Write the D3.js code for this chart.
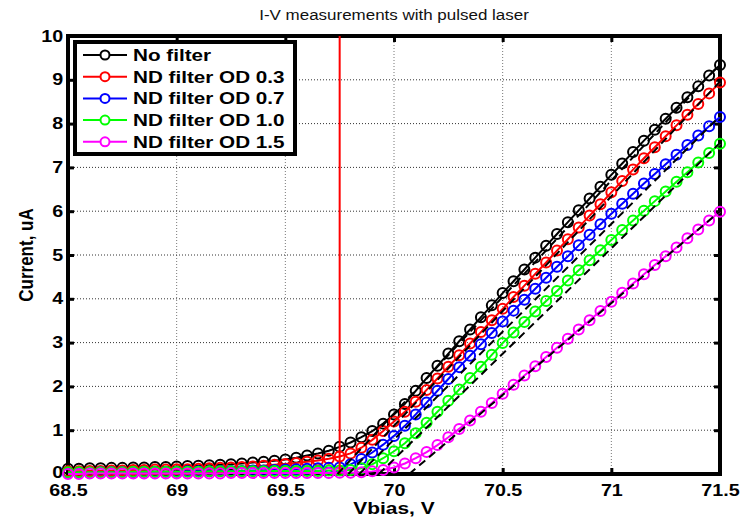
<!DOCTYPE html>
<html>
<head>
<meta charset="utf-8">
<script src="https://cdn.jsdelivr.net/npm/d3@7"></script>
<style>
body { margin: 0; background: #fff; }
text { font-family: "Liberation Sans", Arial, sans-serif; }
</style>
</head>
<body>
<div id="chart"></div>
<script>
// bias voltage, V (one point every 0.05 V)
var vbias = [68.5, 68.55, 68.6, 68.65, 68.7, 68.75, 68.8, 68.85, 68.9, 68.95,
    69.0, 69.05, 69.1, 69.15, 69.2, 69.25, 69.3, 69.35, 69.4, 69.45,
    69.5, 69.55, 69.6, 69.65, 69.7, 69.75, 69.8, 69.85, 69.9, 69.95,
    70.0, 70.05, 70.1, 70.15, 70.2, 70.25, 70.3, 70.35, 70.4, 70.45,
    70.5, 70.55, 70.6, 70.65, 70.7, 70.75, 70.8, 70.85, 70.9, 70.95,
    71.0, 71.05, 71.1, 71.15, 71.2, 71.25, 71.3, 71.35, 71.4, 71.45,
    71.5];

// current, uA
var noFilter = [0.12, 0.12, 0.13, 0.13, 0.14, 0.14, 0.15, 0.15, 0.16, 0.16,
    0.17, 0.18, 0.19, 0.2, 0.21, 0.22, 0.24, 0.26, 0.28, 0.3,
    0.33, 0.37, 0.42, 0.47, 0.53, 0.62, 0.72, 0.84, 0.98, 1.15,
    1.36, 1.6, 1.9, 2.19, 2.47, 2.75, 3.03, 3.3, 3.58, 3.85,
    4.13, 4.4, 4.67, 4.94, 5.21, 5.48, 5.75, 6.02, 6.29, 6.56,
    6.83, 7.09, 7.35, 7.61, 7.86, 8.11, 8.36, 8.6, 8.85, 9.1,
    9.34];

var od03 = [0.06, 0.06, 0.07, 0.07, 0.08, 0.08, 0.09, 0.09, 0.1, 0.1,
    0.11, 0.11, 0.12, 0.13, 0.14, 0.15, 0.16, 0.17, 0.19, 0.21,
    0.23, 0.25, 0.28, 0.31, 0.35, 0.4, 0.47, 0.6, 0.78, 0.98,
    1.2, 1.42, 1.65, 1.92, 2.18, 2.45, 2.71, 2.98, 3.24, 3.51,
    3.77, 4.04, 4.3, 4.57, 4.83, 5.1, 5.36, 5.63, 5.9, 6.16,
    6.43, 6.69, 6.95, 7.21, 7.46, 7.71, 7.96, 8.2, 8.45, 8.69,
    8.94];

var od07 = [0.03, 0.03, 0.03, 0.04, 0.04, 0.04, 0.04, 0.05, 0.05, 0.05,
    0.05, 0.06, 0.06, 0.06, 0.07, 0.07, 0.07, 0.08, 0.08, 0.09,
    0.1, 0.11, 0.12, 0.13, 0.14, 0.15, 0.22, 0.34, 0.49, 0.67,
    0.87, 1.1, 1.36, 1.63, 1.9, 2.17, 2.44, 2.7, 2.96, 3.22,
    3.48, 3.73, 3.98, 4.23, 4.48, 4.73, 4.97, 5.22, 5.46, 5.7,
    5.94, 6.17, 6.4, 6.63, 6.85, 7.07, 7.29, 7.51, 7.73, 7.94,
    8.15];

var od10 = [0.04, 0.04, 0.04, 0.04, 0.04, 0.04, 0.05, 0.05, 0.05, 0.05,
    0.05, 0.05, 0.05, 0.06, 0.06, 0.06, 0.06, 0.06, 0.06, 0.07,
    0.07, 0.07, 0.07, 0.07, 0.08, 0.08, 0.09, 0.13, 0.22, 0.36,
    0.52, 0.7, 0.93, 1.17, 1.42, 1.67, 1.93, 2.19, 2.45, 2.72,
    2.99, 3.23, 3.47, 3.71, 3.95, 4.18, 4.42, 4.65, 4.88, 5.11,
    5.34, 5.57, 5.79, 6.01, 6.23, 6.45, 6.67, 6.89, 7.11, 7.33,
    7.54];

var od15 = [0.0, 0.0, 0.01, 0.01, 0.01, 0.01, 0.01, 0.01, 0.01, 0.01,
    0.01, 0.01, 0.01, 0.01, 0.01, 0.02, 0.02, 0.02, 0.02, 0.02,
    0.02, 0.02, 0.02, 0.02, 0.02, 0.03, 0.03, 0.04, 0.06, 0.09,
    0.15, 0.24, 0.36, 0.5, 0.66, 0.84, 1.03, 1.22, 1.42, 1.62,
    1.83, 2.04, 2.25, 2.46, 2.67, 2.88, 3.09, 3.3, 3.51, 3.72,
    3.93, 4.14, 4.35, 4.56, 4.77, 4.97, 5.17, 5.38, 5.58, 5.79,
    5.99];

var seriesNames = ["No filter", "ND filter OD 0.3", "ND filter OD 0.7", "ND filter OD 1.0", "ND filter OD 1.5"];
var seriesColors = ["#000000", "#ff0000", "#0000ff", "#00ff00", "#ff00ff"];

// linear fits (dashed): zero crossing voltage and current at 71.5 V
var fitStart = [69.74, 69.79, 69.84, 69.93, 70.07];
var fitEnd = [9.36, 8.96, 8.17, 7.56, 6.0];

var markerVoltage = 69.75;

var xTicks = [68.5, 69, 69.5, 70, 70.5, 71, 71.5];
var yTicks = [0, 1, 2, 3, 4, 5, 6, 7, 8, 9, 10];

var width = 741;
var height = 519;
var margin = {top: 36, right: 21, bottom: 45, left: 68};
var w = width - margin.left - margin.right;
var h = height - margin.top - margin.bottom;
var stretch = 1.23; // the original figure's text is widened

var svg = d3.select('#chart')
    .append('svg')
    .attr('width', width)
    .attr('height', height);

var g = svg.append('g')
    .attr('transform', 'translate(' + margin.left + ',' + margin.top + ')');

var x = d3.scaleLinear().domain([68.5, 71.5]).range([0, w]);
var y = d3.scaleLinear().domain([0, 10]).range([h, 0]);

// dotted grid
g.selectAll('.vgrid').data(xTicks).enter().append('line')
    .attr('class', 'vgrid')
    .attr('x1', function(d) { return x(d); })
    .attr('x2', function(d) { return x(d); })
    .attr('y1', 0)
    .attr('y2', h)
    .attr('stroke', '#777')
    .attr('stroke-width', 1)
    .attr('stroke-dasharray', '1,2');

g.selectAll('.hgrid').data(yTicks).enter().append('line')
    .attr('class', 'hgrid')
    .attr('x1', 0)
    .attr('x2', w)
    .attr('y1', function(d) { return y(d); })
    .attr('y2', function(d) { return y(d); })
    .attr('stroke', '#333')
    .attr('stroke-width', 1)
    .attr('stroke-dasharray', '1,2');

// axes, ticks point inward
var fmt = function(d) { return d; };
var axes = [
    {axis: d3.axisBottom(x).tickValues(xTicks).tickFormat(fmt).tickPadding(11), t: 'translate(0,' + h + ')'},
    {axis: d3.axisLeft(y).tickValues(yTicks).tickFormat(fmt).tickPadding(4), t: 'translate(0,0)'},
    {axis: d3.axisTop(x).tickValues(xTicks).tickFormat(''), t: 'translate(0,0)'},
    {axis: d3.axisRight(y).tickValues(yTicks).tickFormat(''), t: 'translate(' + w + ',0)'}
];

axes.forEach(function(a) {
    var ag = g.append('g')
        .attr('transform', a.t)
        .call(a.axis.tickSize(-6).tickSizeOuter(0));
    ag.select('.domain').remove();
    ag.selectAll('.tick line')
        .attr('stroke', '#000')
        .attr('stroke-width', 3);
    ag.selectAll('.tick text')
        .attr('fill', '#000')
        .style('font-family', '"Liberation Sans", Arial, sans-serif')
        .style('font-size', '16px')
        .style('font-weight', 'bold')
        .attr('transform', 'scale(' + stretch + ',1)');
});

// the "0" label sits just above the x labels, as in the original
g.selectAll('.tick text').filter(function(d) { return d === 0; })
    .attr('dy', '0.2em');

// axes box
g.append('rect')
    .attr('x', 0)
    .attr('y', 0)
    .attr('width', w)
    .attr('height', h)
    .attr('fill', 'none')
    .attr('stroke', '#000')
    .attr('stroke-width', 4);

// curves
var series = [noFilter, od03, od07, od10, od15];

var line = d3.line()
    .x(function(d) { return x(d.v); })
    .y(function(d) { return y(d.c); });

series.forEach(function(vals, i) {
    var pts = vbias.map(function(v, j) {
        return {v: v, c: vals[j]};
    });
    var sg = g.append('g').attr('class', 'series');
    sg.append('path')
        .datum(pts)
        .attr('d', line)
        .attr('fill', 'none')
        .attr('stroke', seriesColors[i])
        .attr('stroke-width', 2);
    sg.selectAll('circle').data(pts).enter().append('circle')
        .attr('cx', function(d) { return x(d.v); })
        .attr('cy', function(d) { return y(d.c); })
        .attr('r', 5)
        .attr('fill', 'none')
        .attr('stroke', seriesColors[i])
        .attr('stroke-width', 2);
});

// red marker line
g.append('line')
    .attr('x1', x(markerVoltage))
    .attr('x2', x(markerVoltage))
    .attr('y1', y(0))
    .attr('y2', y(10))
    .attr('stroke', '#ff0000')
    .attr('stroke-width', 2);

// dashed linear fits
fitStart.forEach(function(v0, i) {
    g.append('line')
        .attr('x1', x(v0))
        .attr('y1', y(0))
        .attr('x2', x(x.domain()[1]))
        .attr('y2', y(fitEnd[i]))
        .attr('stroke', '#000')
        .attr('stroke-width', 2)
        .attr('stroke-dasharray', '8,5');
});

// legend
var legend = svg.append('g')
    .attr('transform', 'translate(' + (margin.left + 7) + ',' + (margin.top + 6) + ')');

legend.append('rect')
    .attr('width', 220)
    .attr('height', 112)
    .attr('fill', '#fff')
    .attr('stroke', '#000')
    .attr('stroke-width', 4);

var rows = legend.selectAll('.row').data(seriesNames).enter().append('g')
    .attr('class', 'row')
    .attr('transform', function(d, i) { return 'translate(0,' + (13 + i * 21.7) + ')'; });

rows.append('line')
    .attr('x1', 8)
    .attr('x2', 52)
    .attr('stroke', function(d, i) { return seriesColors[i]; })
    .attr('stroke-width', 2);

rows.append('circle')
    .attr('cx', 30)
    .attr('r', 4.5)
    .attr('fill', '#fff')
    .attr('stroke', function(d, i) { return seriesColors[i]; })
    .attr('stroke-width', 2);

rows.append('text')
    .attr('transform', 'translate(58,0) scale(' + stretch + ',1)')
    .attr('dy', '0.36em')
    .style('font-size', '16.8px')
    .style('font-weight', 'bold')
    .text(function(d) { return d; });

// titles
svg.append('text')
    .attr('transform', 'translate(' + (margin.left + w / 2) + ',20) scale(' + stretch + ',1)')
    .attr('text-anchor', 'middle')
    .style('font-size', '13.8px')
    .attr('fill', '#111')
    .text('I-V measurements with pulsed laser');

svg.append('text')
    .attr('transform', 'translate(' + (margin.left + w / 2) + ',514) scale(' + stretch + ',1)')
    .attr('text-anchor', 'middle')
    .style('font-size', '17px')
    .style('font-weight', 'bold')
    .text('Vbias, V');

svg.append('text')
    .attr('transform', 'translate(33,' + (margin.top + h / 2) + ') scale(' + stretch + ',1) rotate(-90)')
    .attr('text-anchor', 'middle')
    .style('font-size', '17px')
    .style('font-weight', 'bold')
    .text('Current, uA');
</script>
</body>
</html>
